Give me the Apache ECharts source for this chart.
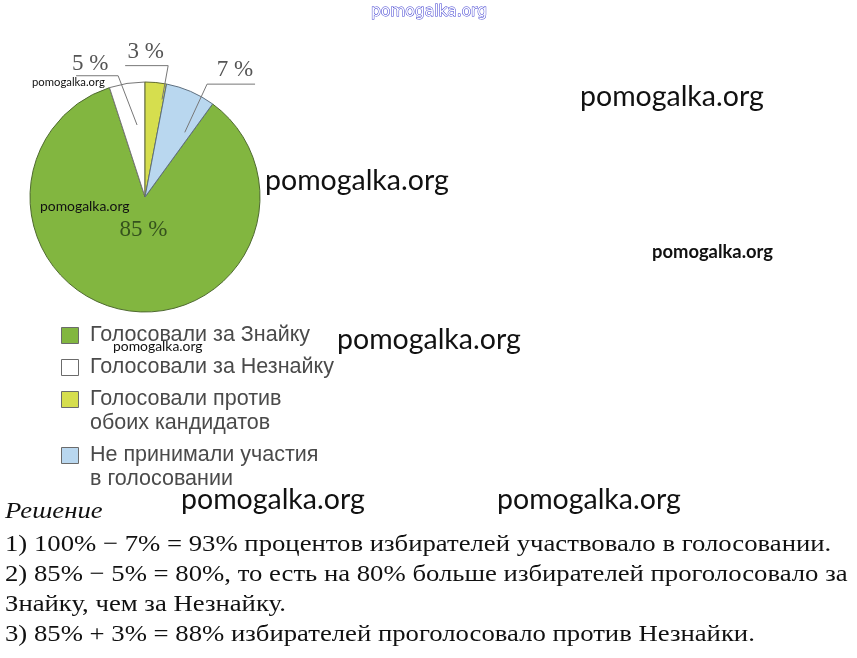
<!DOCTYPE html>
<html><head><meta charset="utf-8">
<script src="https://cdn.jsdelivr.net/npm/echarts@6/dist/echarts.min.js"></script>
<style>html,body{margin:0;padding:0;background:#fff}#c{width:857px;height:658px}</style>
</head><body><div id="c"></div>
<script>
// ---- data ----
const categories = ['Голосовали за Знайку', 'Голосовали за Незнайку', 'Голосовали против\nобоих кандидатов', 'Не принимали участия\nв голосовании'];
const values = [85, 5, 3, 7];
const solutionTitle = 'Решение';
const solutionLines = [
  '1) 100% − 7% = 93% процентов избирателей участвовало в голосовании.',
  '2) 85% − 5% = 80%, то есть на 80% больше избирателей проголосовало за',
  'Знайку, чем за Незнайку.',
  '3) 85% + 3% = 88% избирателей проголосовало против Незнайки.'
];
const watermarkText = 'pomogalka.org';

// ---- styles ----
const colors = ['#82b640', '#ffffff', '#d6de4e', '#b9d7ef'];
const borderColors = ['#4f6a30', '#777777', '#5f6a30', '#5f7080'];
const CX = 145, CY = 197, R = 115;
// leader config: start (angle offset deg, radius frac), elbow (angle offset, radius frac), horizontal length, label offset
const leader = [null,
  {so: 2.7, sf: 0.63, eo: -3.5, ef: 1.08, h: -42, lx: -7, ly: -12},
  {so: 4.5, sf: 0.86, eo: 4.6, ef: 1.16, h: -43, lx: -1, ly: -14},
  {so: 8.2, sf: 0.66, eo: 5.4, ef: 1.12, h: 48, lx: 4, ly: -14}];

const chart = echarts.init(document.getElementById('c'), null, {renderer: 'canvas'});

const baseData = categories.map((n, i) => ({
  name: n, value: values[i],
  itemStyle: {color: colors[i], borderColor: borderColors[i], borderWidth: 1}
}));
const labelData = categories.map((n, i) => ({
  name: n, value: values[i],
  itemStyle: {color: 'rgba(0,0,0,0)', borderWidth: 0},
  label: i === 0 ? {position: 'inside', color: '#35521d'} : {position: 'outside', color: '#555'},
  labelLine: {show: i !== 0}
}));

const graphics = [];
// legend
let ly = 335;
categories.forEach((n, i) => {
  const lines = n.split('\n').length;
  graphics.push({type: 'rect', left: 61, top: ly - 8, shape: {width: 17, height: 16},
    style: {fill: colors[i], stroke: '#6b6b6b', lineWidth: 1}});
  graphics.push({type: 'text', x: 90, y: ly - 12, style: {text: n, font: '21.5px "Liberation Sans", Arial, sans-serif',
    fill: '#4a4a4a', lineHeight: 24, verticalAlign: 'top', textVerticalAlign: 'top'}});
  ly += lines * 24 + 8;
});
// watermarks
const wm = [
  {x: 580, y: 97, s: 28.5, w: 'normal'}, {x: 265, y: 181, s: 28.5, w: 'normal'}, {x: 337, y: 340, s: 28.5, w: 'normal'},
  {x: 181, y: 500, s: 28.5, w: 'normal'}, {x: 497, y: 500, s: 28.5, w: 'normal'},
  {x: 652, y: 252, s: 18.4, w: 'bold'}, {x: 32, y: 82, s: 11.3, w: 'normal'}, {x: 40, y: 207, s: 13.9, w: 'normal'}, {x: 113, y: 347, s: 13.9, w: 'normal'}
];
wm.forEach(o => graphics.push({type: 'text', x: o.x, y: o.y, z: 10, style: {text: watermarkText,
  font: o.w + ' ' + o.s + 'px Lato, "Open Sans", sans-serif', fill: '#111', verticalAlign: 'middle', textVerticalAlign: 'middle'}}));
graphics.push({type: 'text', x: 429, y: 12, z: 10, style: {text: watermarkText, font: '15.5px "DejaVu Sans", sans-serif',
  fill: '#ffffff', stroke: '#3a3ad0', lineWidth: 1, align: 'center', textAlign: 'center', verticalAlign: 'middle', textVerticalAlign: 'middle'}});
// solution
const SX = 1.113;
graphics.push({type: 'text', x: 5, y: 512, scaleX: SX, style: {text: solutionTitle, font: 'italic 24px "Liberation Serif", serif', fill: '#111',
  verticalAlign: 'middle', textVerticalAlign: 'middle'}});
solutionLines.forEach((t, i) => graphics.push({type: 'text', x: 5, y: 545 + i * 30, scaleX: SX, style: {text: t,
  font: '24px "Liberation Serif", serif', fill: '#111', verticalAlign: 'middle', textVerticalAlign: 'middle'}}));

function pt(theta, off, f) {
  const a = (theta + off) * Math.PI / 180;
  return [CX + Math.sin(a) * R * f, CY - Math.cos(a) * R * f];
}

chart.setOption({
  animation: false,
  backgroundColor: '#fff',
  series: [{
    type: 'pie', center: [CX, CY], radius: R, startAngle: 54, clockwise: true, z: 2,
    data: baseData, label: {show: false}, labelLine: {show: false}, emphasis: {disabled: true}, silent: true
  }, {
    type: 'pie', center: [CX, CY], radius: R, startAngle: 54, clockwise: true, z: 5,
    data: labelData, silent: true,
    label: {formatter: '{c} %', fontFamily: '"Liberation Serif", "Times New Roman", serif', fontSize: 23},
    labelLine: {length: 10, length2: 10, lineStyle: {color: '#777', width: 1}},
    emphasis: {disabled: true},
    labelLayout: function (p) {
      const cfg = leader[p.dataIndex];
      if (!cfg) return {dx: 8, dy: -27};
      const pts = p.labelLinePoints;
      if (!pts) return {};
      const theta = Math.atan2(pts[0][0] - CX, -(pts[0][1] - CY)) * 180 / Math.PI;
      const s = pt(theta, cfg.so, cfg.sf), e = pt(theta, cfg.eo, cfg.ef);
      const hx = e[0] + cfg.h;
      return {x: (e[0] + hx) / 2 + cfg.lx, y: e[1] + cfg.ly, align: 'center', verticalAlign: 'middle',
        labelLinePoints: [s, e, [hx, e[1]]]};
    }
  }],
  graphic: graphics
});
</script></body></html>
